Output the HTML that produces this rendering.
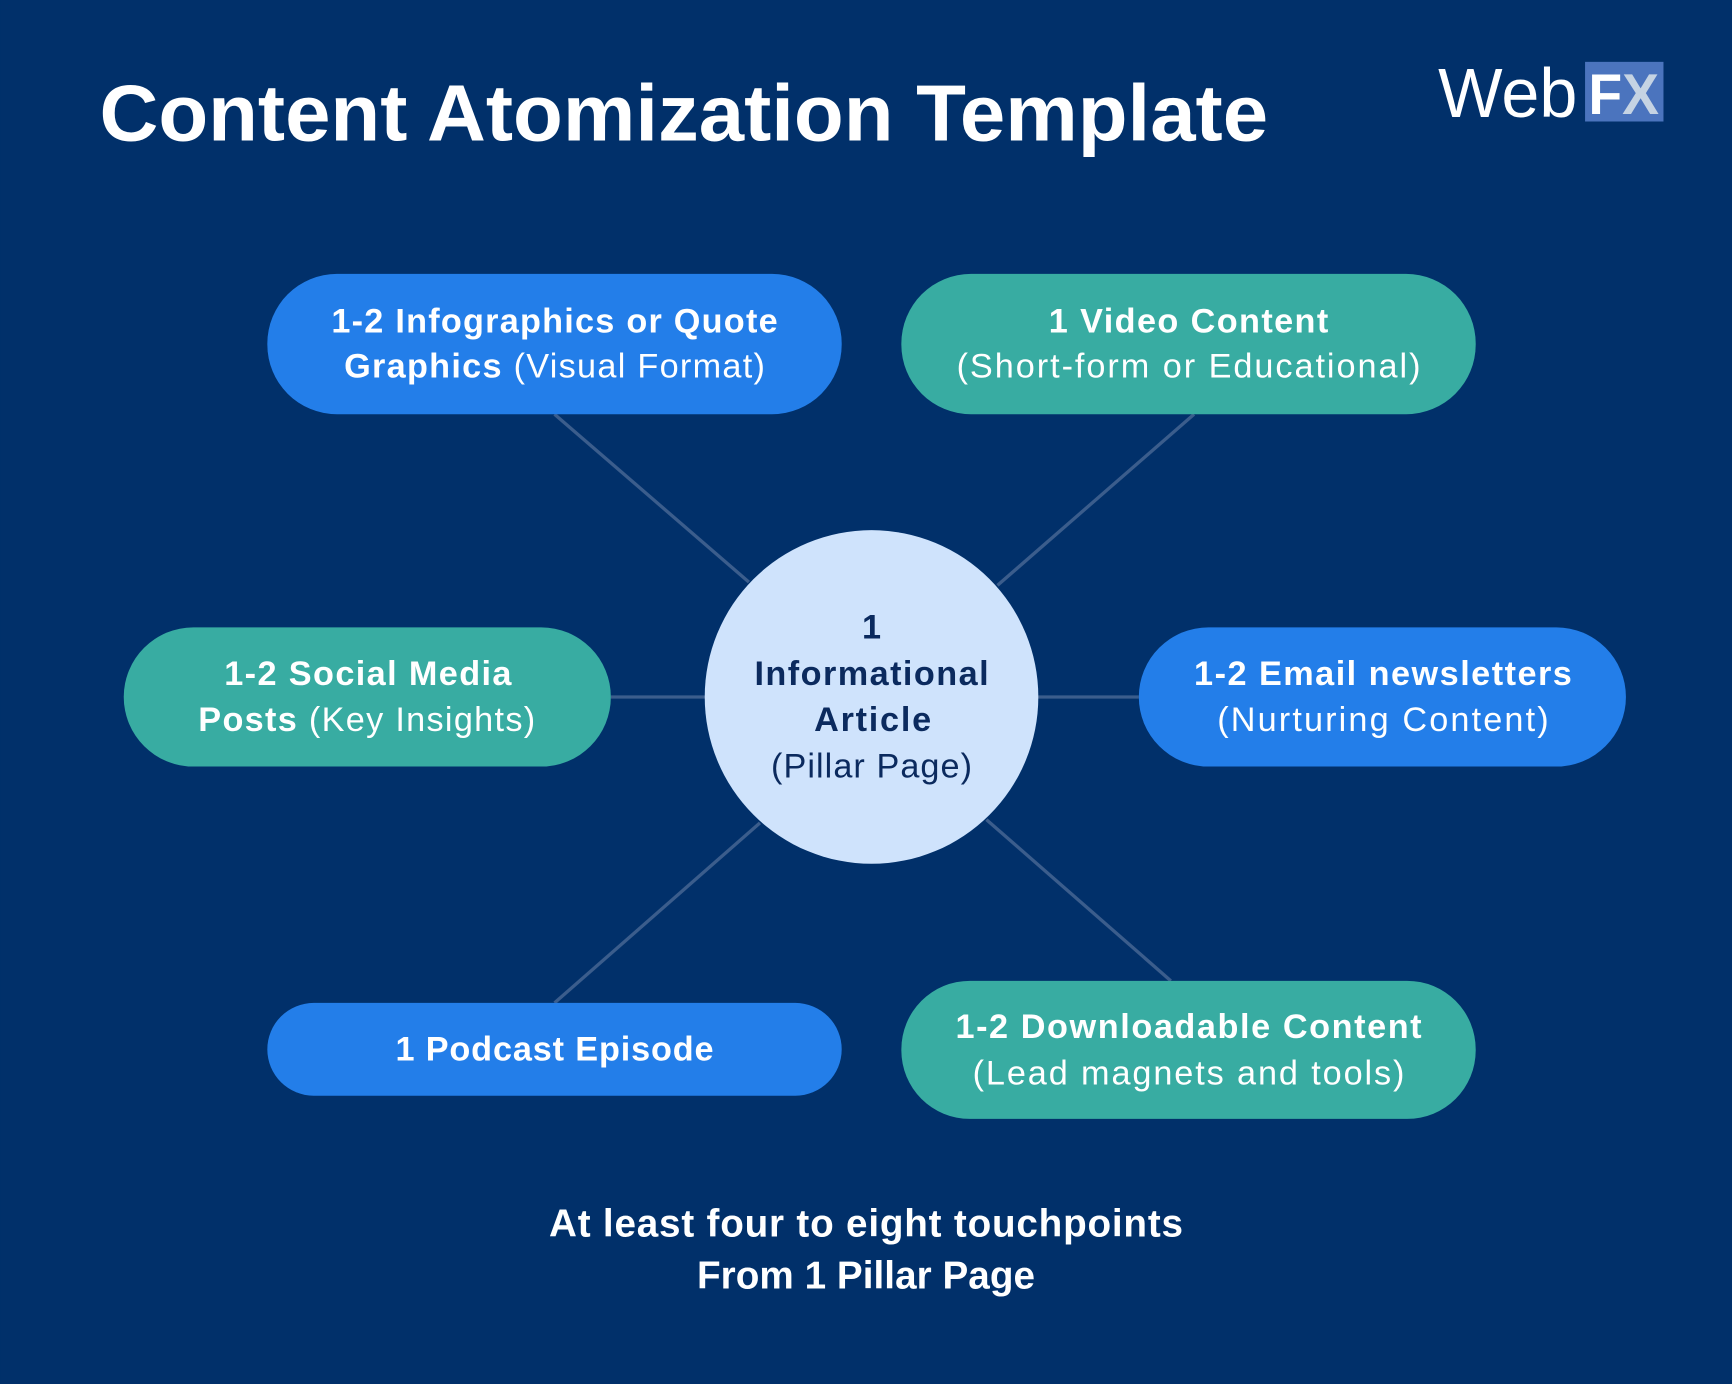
<!DOCTYPE html>
<html><head><meta charset="utf-8"><style>
html,body{margin:0;padding:0;background:#01306a;}
svg{display:block;}
text{font-family:"Liberation Sans","DejaVu Sans",sans-serif;}
</style></head><body>
<svg width="1732" height="1384" viewBox="0 0 1568 1253" xmlns="http://www.w3.org/2000/svg">
<rect width="1568" height="1253" fill="#01306a"/>
<text x="90" y="127" font-size="72" font-weight="bold" fill="#fff" textLength="1058" lengthAdjust="spacingAndGlyphs">Content Atomization Template</text>
<text x="1302" y="106" font-size="63" fill="#fff" textLength="126" lengthAdjust="spacingAndGlyphs">Web</text>
<rect x="1435" y="56" width="71" height="54" fill="#4b74be"/>
<text x="1438" y="103" font-size="52" font-weight="bold" fill="#fff" textLength="64" lengthAdjust="spacingAndGlyphs">F<tspan fill="#c5d3e3">X</tspan></text>
<g stroke="#3b5d8c" stroke-width="3">
<line x1="502" y1="375" x2="678" y2="527"/>
<line x1="1081" y1="375" x2="903" y2="530"/>
<line x1="553" y1="631" x2="640" y2="631"/>
<line x1="938" y1="631" x2="1031" y2="631"/>
<line x1="688" y1="745" x2="502" y2="908"/>
<line x1="893" y1="742" x2="1060" y2="888"/>
</g>
<g font-size="31" fill="#fff" text-anchor="middle" dominant-baseline="central">
<rect x="242" y="248" width="520" height="127" rx="63" fill="#237ee9"/>
<text x="502" y="291" font-weight="bold" textLength="404">1-2 Infographics or Quote</text>
<text x="502" y="332" textLength="381"><tspan font-weight="bold">Graphics</tspan> (Visual Format)</text>
<rect x="816" y="248" width="520" height="127" rx="63" fill="#38aca2"/>
<text x="1076" y="291" font-weight="bold" textLength="253">1 Video Content</text>
<text x="1076" y="332" textLength="420">(Short-form or Educational)</text>
<rect x="112" y="568" width="441" height="126" rx="63" fill="#38aca2"/>
<text x="333" y="610" font-weight="bold" textLength="260">1-2 Social Media</text>
<text x="332" y="652" textLength="305"><tspan font-weight="bold">Posts</tspan> (Key Insights)</text>
<rect x="1031" y="568" width="441" height="126" rx="63" fill="#237ee9"/>
<text x="1252" y="610" font-weight="bold" textLength="342">1-2 Email newsletters</text>
<text x="1252" y="652" textLength="300">(Nurturing Content)</text>
<rect x="242" y="908" width="520" height="84" rx="42" fill="#237ee9"/>
<text x="502" y="950" font-weight="bold" textLength="288">1 Podcast Episode</text>
<rect x="816" y="888" width="520" height="125" rx="62" fill="#38aca2"/>
<text x="1076" y="930" font-weight="bold" textLength="422">1-2 Downloadable Content</text>
<text x="1076" y="972" textLength="391">(Lead magnets and tools)</text>
<circle cx="789" cy="631" r="151" fill="#cfe3fc"/>
<g fill="#0b2a5e">
<text x="789" y="568" font-weight="bold">1</text>
<text x="789" y="610" font-weight="bold" textLength="212">Informational</text>
<text x="790" y="652" font-weight="bold" textLength="106">Article</text>
<text x="789" y="694" textLength="182">(Pillar Page)</text>
</g>
<text x="784" y="1108" font-size="35" font-weight="bold" textLength="574">At least four to eight touchpoints</text>
<text x="784" y="1155" font-size="35" font-weight="bold" textLength="306">From 1 Pillar Page</text>
</g>
</svg>
</body></html>
